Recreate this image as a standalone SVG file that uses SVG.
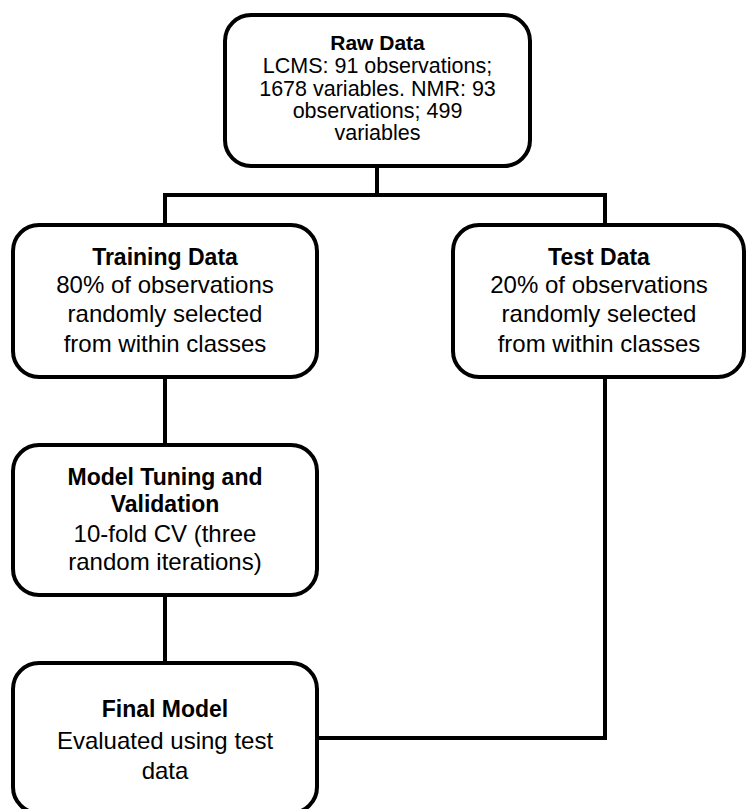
<svg xmlns="http://www.w3.org/2000/svg" width="747" height="809" viewBox="0 0 747 809">
<style>
.box{fill:#fff;stroke:#000;stroke-width:4}
.conn{fill:none;stroke:#000;stroke-width:4;stroke-linejoin:miter}
text{font-family:"Liberation Sans",Arial,sans-serif;fill:#000;text-anchor:middle}
.t{font-weight:bold}
.big{font-size:24px}
.big .t{font-size:23px}
.small{font-size:21.5px}
.small .t{font-size:21px}
</style>
<rect width="747" height="809" fill="#fff"/>
<g id="connectors">
<path class="conn" d="M377,166 V195 M163,195 H607 M165,195 V225 M605,195 V225"/>
<path class="conn" d="M165,377 V445"/>
<path class="conn" d="M165,595 V663"/>
<path class="conn" d="M605,377 V738 H316"/>
</g>
<g id="raw-data">
<rect class="box" x="225" y="15" width="305" height="151" rx="26"/>
<text class="small"><tspan class="t" x="377.5" y="50">Raw Data</tspan><tspan x="377.5" y="73">LCMS: 91 observations;</tspan><tspan x="377.5" y="96">1678 variables. NMR: 93</tspan><tspan x="377.5" y="118">observations; 499</tspan><tspan x="377.5" y="140">variables</tspan></text>
</g>
<g id="training-data">
<rect class="box" x="13" y="225" width="304" height="152" rx="26"/>
<text class="big"><tspan class="t" x="165" y="265">Training Data</tspan><tspan x="165" y="293">80% of observations</tspan><tspan x="165" y="322">randomly selected</tspan><tspan x="165" y="352">from within classes</tspan></text>
</g>
<g id="test-data">
<rect class="box" x="453" y="225" width="291" height="152" rx="26"/>
<text class="big"><tspan class="t" x="599" y="265">Test Data</tspan><tspan x="599" y="293">20% of observations</tspan><tspan x="599" y="322">randomly selected</tspan><tspan x="599" y="352">from within classes</tspan></text>
</g>
<g id="model-tuning">
<rect class="box" x="13" y="445" width="304" height="150" rx="26"/>
<text class="big"><tspan class="t" x="165" y="485">Model Tuning and</tspan><tspan class="t" x="165" y="512">Validation</tspan><tspan x="165" y="542">10-fold CV (three</tspan><tspan x="165" y="570">random iterations)</tspan></text>
</g>
<g id="final-model">
<rect class="box" x="13" y="663" width="304" height="150" rx="26"/>
<text class="big"><tspan class="t" x="165" y="717">Final Model</tspan><tspan x="165" y="749">Evaluated using test</tspan><tspan x="165" y="779">data</tspan></text>
</g>
</svg>
